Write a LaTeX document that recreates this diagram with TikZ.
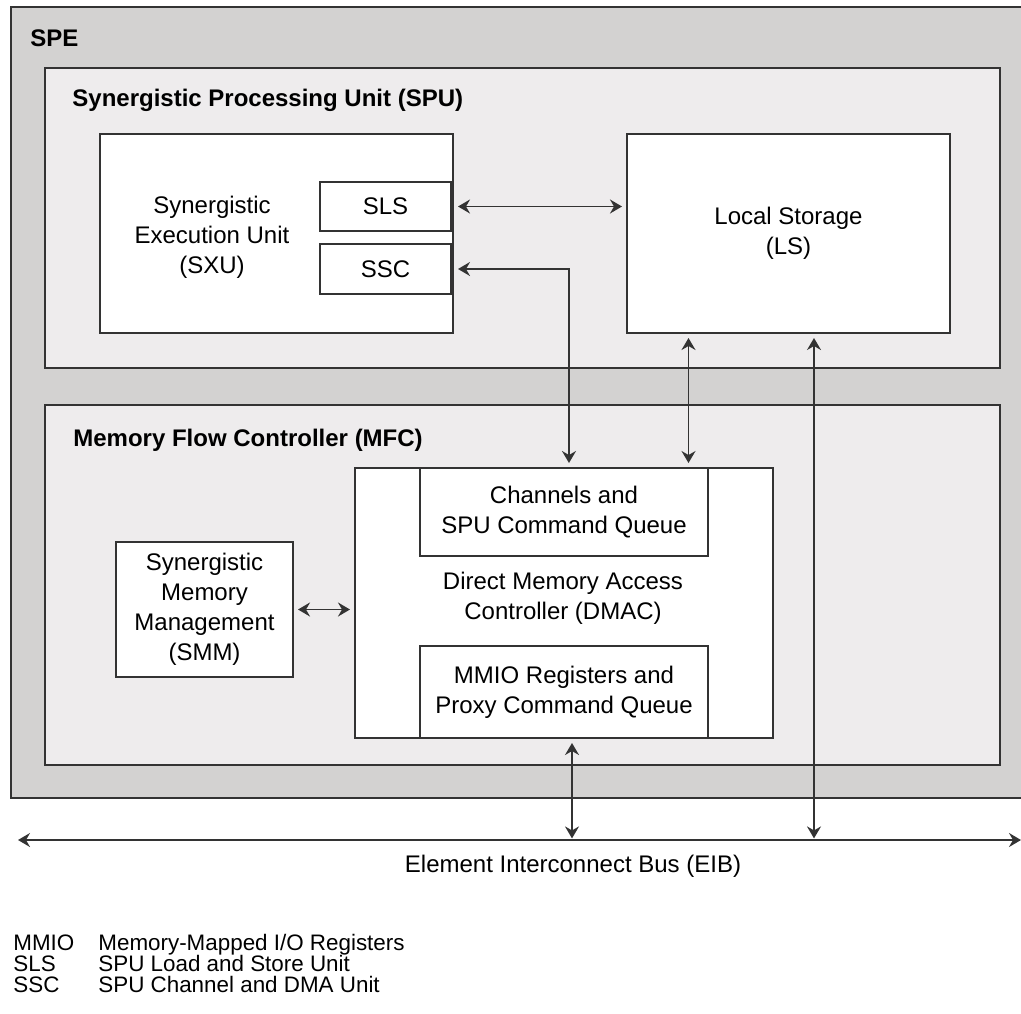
\documentclass[tikz,border=0pt]{standalone}
\usepackage{fontspec}
\setmainfont{Liberation Sans}
\usepackage{tikz}
\usetikzlibrary{arrows.meta}
\usetikzlibrary{positioning}

\definecolor{speGray}{HTML}{D3D2D1}
\definecolor{unitGray}{HTML}{EEECED}
\definecolor{lineGray}{HTML}{333333}

\tikzset{
  panel/.style={draw=lineGray, line width=1pt, inner sep=0pt},
  block/.style={draw=lineGray, line width=1pt, fill=white, inner sep=0pt,
    align=center, font=\fontsize{12}{15}\selectfont},
  txt/.style={inner sep=0pt, align=center, font=\fontsize{12}{15}\selectfont},
  title/.style={inner sep=0pt, anchor=base west, font=\bfseries\fontsize{12}{15}\selectfont},
  key/.style={inner sep=0pt, anchor=base west, font=\fontsize{11.2}{14}\selectfont},
  link/.style={<->, >={Stealth[length=6pt,width=7pt,inset=2pt]},
    draw=lineGray, line width=0.9pt, shorten >=2pt, shorten <=2pt},
}

\begin{document}
\begin{tikzpicture}[x=0.5pt,y=-0.5pt]
  \useasboundingbox (0,0) rectangle (1021,1013);

  % SPE and its two units
  \node[panel, fill=speGray, minimum width=509.5pt, minimum height=395.5pt] (spe) at (520.5,402.5) {};
  \node[title] (spelbl) at (30,46) {SPE};

  \node[panel, fill=unitGray, minimum width=477.5pt, minimum height=150pt] (spu) at (522.5,218) {};
  \node[title] (spulbl) at (72,106) {Synergistic Processing Unit (SPU)};

  \node[panel, fill=unitGray, minimum width=477.5pt, minimum height=180pt] (mfc) at (522.5,585) {};
  \node[title] (mfclbl) at (73,446) {Memory Flow Controller (MFC)};

  % SPU contents
  \node[block, minimum width=176.5pt, minimum height=99.5pt] (sxu) at (276.5,233.5) {};
  \node[txt] (sxulbl) at (212,237) {Synergistic\\Execution Unit\\(SXU)};
  \node[block, minimum width=65.5pt, minimum height=24.5pt] (sls) at (385.5,206.5) {SLS};
  \node[block, minimum width=65.5pt, minimum height=25pt] (ssc) at (385.5,269) {SSC};
  \node[block, minimum width=161.5pt, minimum height=99.5pt] (ls) at (788.5,233.5) {Local Storage\\(LS)};

  % MFC contents
  \node[block, minimum width=209pt, minimum height=135pt] (dmac) at (564,603) {};
  \node[block, minimum width=144pt, minimum height=44pt] (chan) at (564,512) {Channels and\\SPU Command Queue};
  \node[block, minimum width=144pt, minimum height=46pt] (mmio) at (564,692) {MMIO Registers and\\Proxy Command Queue};
  \node[txt] (dmaclbl) at (563,598) {Direct Memory Access\\Controller (DMAC)};
  \node[block, minimum width=88.5pt, minimum height=67.5pt] (smm) at (204.5,609.5) {Synergistic\\Memory\\Management\\(SMM)};

  % bus
  \coordinate (eibw) at (18,840);
  \coordinate (eibe) at (1021,840);
  \draw[link, shorten <=0pt, shorten >=0pt] (eibw) -- (eibe);
  \node[txt] (eib) at (573,866) {Element Interconnect Bus (EIB)};

  % connections
  \draw[link] (sls.east -| sxu.east) -- (sls.east -| ls.west);
  \draw[link] (ssc.east -| sxu.east) -| ([xshift=2.5pt]dmac.north);
  \draw[link] ([xshift=-50pt]ls.south) -- ([xshift=-50pt]ls.south |- dmac.north);
  \draw[link, shorten >=0.8pt] ([xshift=12.75pt]ls.south) -- ([xshift=12.75pt]ls.south |- eibw);
  \draw[link, shorten >=0.8pt] ([xshift=4pt]mmio.south) -- ([xshift=4pt]mmio.south |- eibw);
  \draw[link] (smm.east) -- (smm.east -| dmac.west);

  % legend
  \node[key] (kmmio) at (13,950) {MMIO};
  \node[key] (dmmio) at (98,950) {Memory-Mapped I/O Registers};
  \node[key] (ksls) at (13,971) {SLS};
  \node[key] (dsls) at (98,971) {SPU Load and Store Unit};
  \node[key] (kssc) at (13,992) {SSC};
  \node[key] (dssc) at (98,992) {SPU Channel and DMA Unit};
\end{tikzpicture}
\end{document}
